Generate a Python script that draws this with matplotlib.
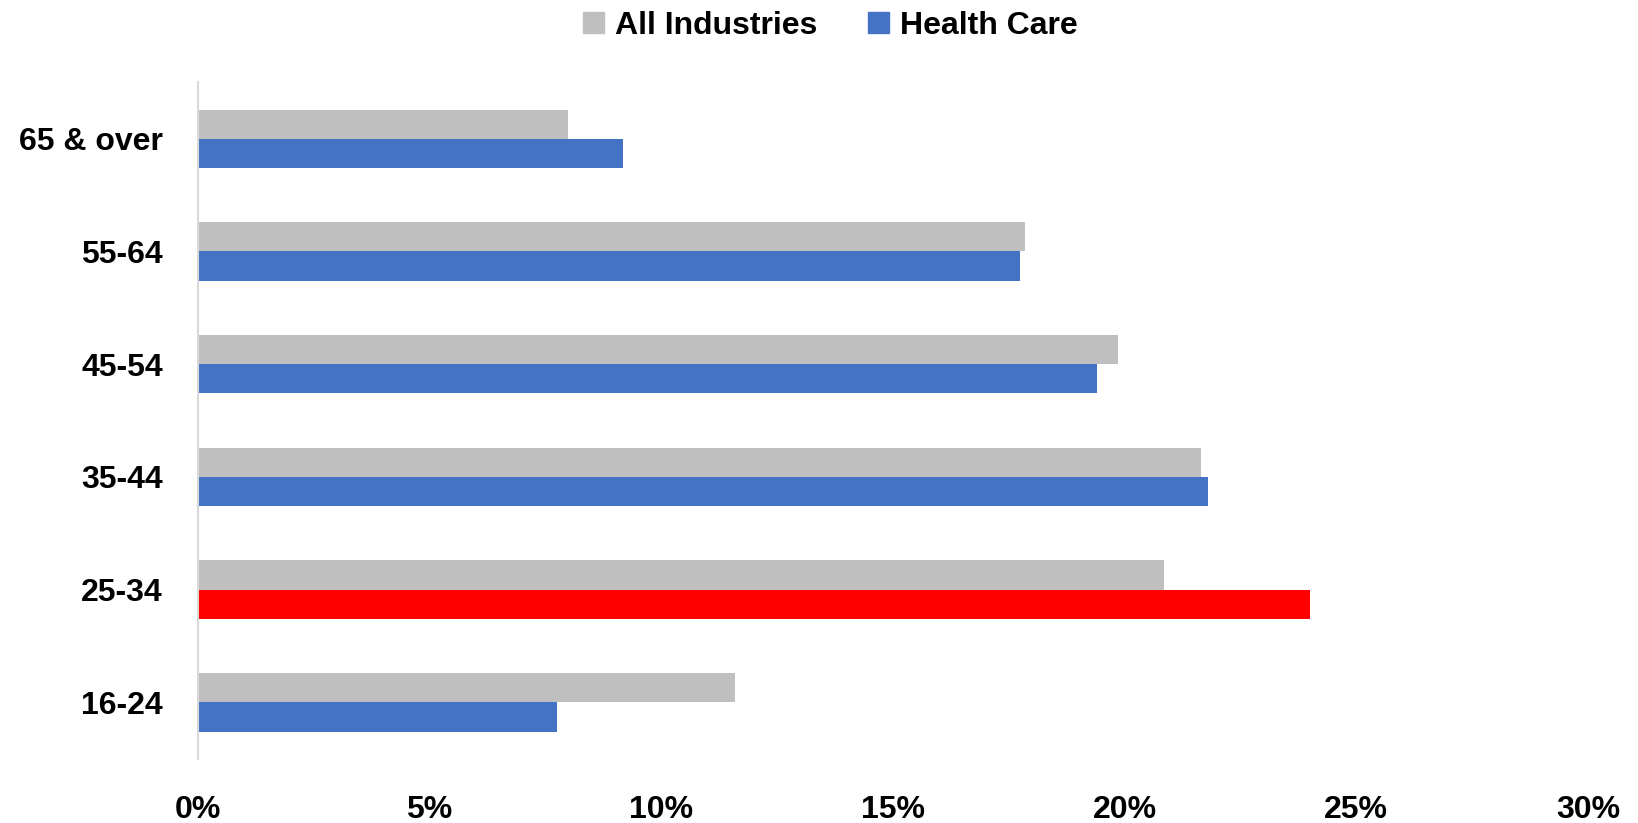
import matplotlib
matplotlib.use("Agg")
import matplotlib.pyplot as plt
import numpy as np
from matplotlib.patches import Patch

categories = ["16-24", "25-34", "35-44", "45-54", "55-64", "65 & over"]
all_industries = [11.6, 20.85, 21.65, 19.85, 17.85, 8.0]
health_care = [7.75, 24.0, 21.8, 19.4, 17.75, 9.17]
highlight = "25-34"
xticks = [0, 5, 10, 15, 20, 25, 30]
xtick_labels = ["0%", "5%", "10%", "15%", "20%", "25%", "30%"]

plt.rcParams['font.family'] = ['Liberation Sans', 'DejaVu Sans']

fig = plt.figure(figsize=(16.38, 8.23), dpi=100)
ax = fig.add_axes([0.1206, 0.0783, 0.9695 - 0.1206, 0.8998 - 0.0783])

y = np.arange(len(categories))
h = 0.26
gray = "#bfbfbf"
blue = "#4472c4"
red = "#ff0000"
hc_colors = [red if c == highlight else blue for c in categories]

ax.barh(y + h / 2, all_industries, height=h, color=gray)
ax.barh(y - h / 2, health_care, height=h, color=hc_colors)

ax.set_xlim(0, 30)
ax.set_ylim(-0.5, len(categories) - 0.5)
ax.set_xticks(xticks)
ax.set_xticklabels(xtick_labels, fontsize=23, fontweight="bold")
ax.set_yticks(y)
ax.set_yticklabels(categories, fontsize=23, fontweight="bold")
ax.tick_params(axis="both", length=0)
ax.tick_params(axis="y", pad=25)
ax.tick_params(axis="x", pad=26)
for s in ["top", "right", "bottom"]:
    ax.spines[s].set_visible(False)
ax.spines["left"].set_color("#d9d9d9")
ax.spines["left"].set_linewidth(1.5)

handles = [Patch(color=gray, label="All Industries"), Patch(color=blue, label="Health Care")]
fig.legend(handles=handles, loc="upper center", bbox_to_anchor=(0.507, 1.022), ncol=2,
           frameon=False, prop={"size": 23, "weight": "bold"}, handlelength=0.65,
           handleheight=0.65, handletextpad=0.35, columnspacing=1.6)

fig.savefig("out.png", dpi=100)
